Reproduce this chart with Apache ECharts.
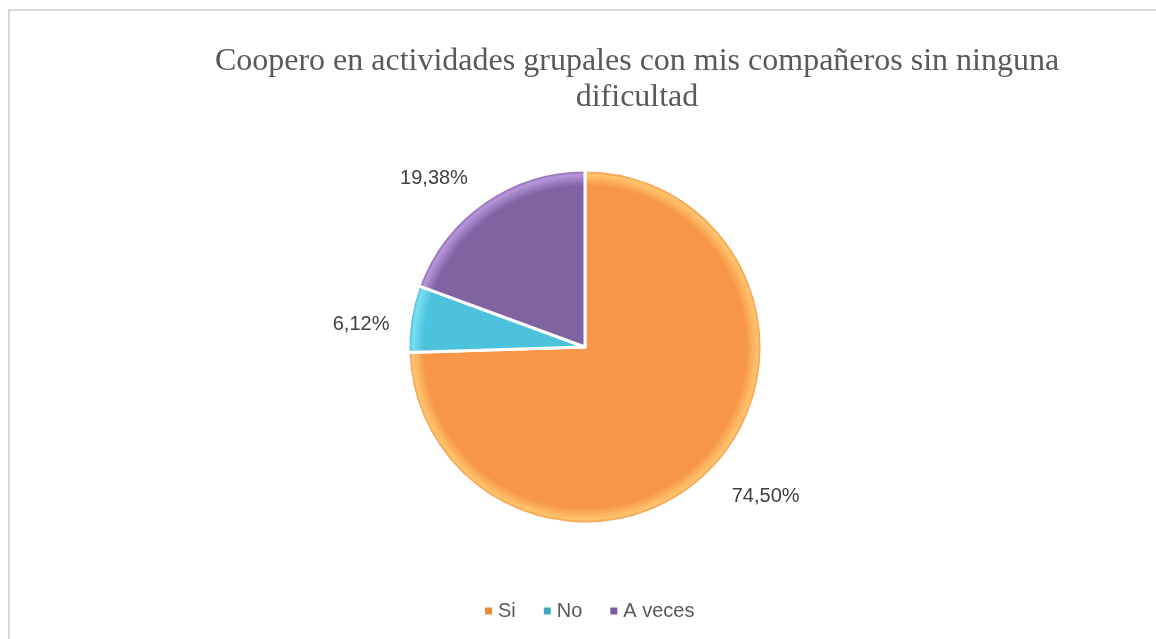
<!DOCTYPE html>
<html>
<head>
<meta charset="utf-8">
<script src="https://cdn.jsdelivr.net/npm/echarts@6/dist/echarts.min.js"></script>
<style>
  html, body { margin: 0; padding: 0; background: #fff; }
  #chart { width: 1156px; height: 639px; }
</style>
</head>
<body>
<div id="chart"></div>
<script>
var categories = ["Si", "No", "A veces"];
var percents = [74.50, 6.12, 19.38];
var colors = ["#F79646", "#4CC2DC", "#8064A2"];
var rims = ["#FFC46E", "#78E0F4", "#B895DC"];
var edges = ["#F08A38", "#3FA9C2", "#7A5A9C"];

var cx = 585, cy = 347, radius = 177;

// label nudges so the labels sit where the original put them
var labelShift = [[2, 18], [0, 8], [0, -13]];

function sliceFill(i) {
  // lighter rim to mimic the bevel look
  return {
    type: "radial", x: cx, y: cy, r: radius, global: true,
    colorStops: [
      { offset: 0, color: colors[i] },
      { offset: 0.91, color: colors[i] },
      { offset: 0.975, color: rims[i] },
      { offset: 1, color: edges[i] }
    ]
  };
}

var chart = echarts.init(document.getElementById("chart"));
chart.setOption({
  animation: false,
  backgroundColor: "#fff",
  graphic: [{
    type: "rect",
    shape: { x: 9, y: 10, width: 1160, height: 640 },
    style: { fill: "none", stroke: "#d9d9d9", lineWidth: 2 }
  }],
  title: {
    text: "Coopero en actividades grupales con mis compañeros sin ninguna\ndificultad",
    left: 632,
    top: 39,
    textAlign: "center",
    textStyle: {
      fontFamily: "Liberation Serif",
      fontSize: 32,
      fontWeight: "normal",
      color: "#595959",
      lineHeight: 36
    }
  },
  legend: {
    data: categories,
    left: 478,
    top: 596,
    icon: "rect",
    itemWidth: 9,
    itemHeight: 9,
    itemGap: 26,
    textStyle: { fontFamily: "Liberation Sans", fontSize: 20, color: "#595959" }
  },
  series: [{
    type: "pie",
    center: [cx, cy],
    radius: radius,
    startAngle: 90,
    clockwise: true,
    data: categories.map(function (c, i) {
      return {
        name: c,
        value: percents[i],
        itemStyle: { color: sliceFill(i) }
      };
    }),
    itemStyle: { borderColor: "#fff", borderWidth: 3 },
    label: {
      show: true,
      position: "outside",
      formatter: function (p) { return p.value.toFixed(2).replace(".", ",") + "%"; },
      fontFamily: "Liberation Sans",
      fontSize: 20,
      color: "#404040"
    },
    labelLine: { show: false, length: 12, length2: 4 },
    labelLayout: function (p) {
      var s = labelShift[p.dataIndex];
      return { dx: s[0], dy: s[1] };
    },
    emphasis: { disabled: true }
  }]
});
</script>
</body>
</html>
